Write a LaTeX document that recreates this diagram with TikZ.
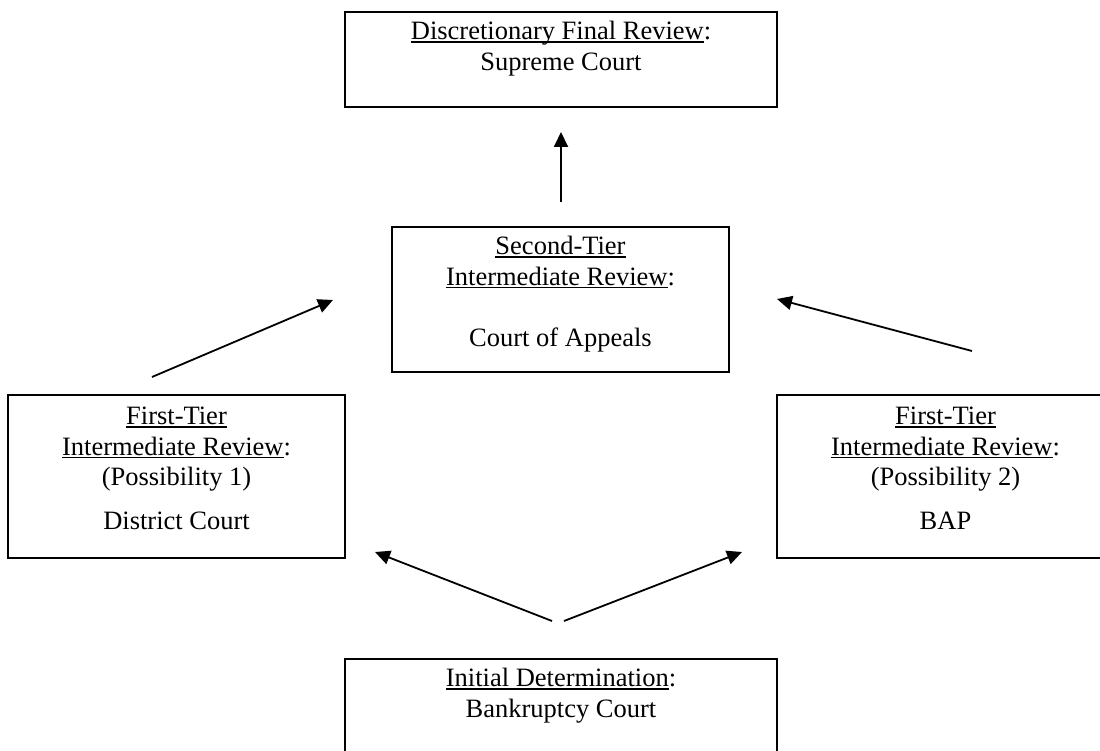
\documentclass[tikz,border=0pt]{standalone}
\usepackage{fontspec}
\setmainfont{Liberation Serif}
\usetikzlibrary{arrows.meta,positioning}
\newcommand\undl[1]{\setbox0\hbox{#1}\rlap{\rule[-3pt]{\wd0}{1.3pt}}\box0}

\begin{document}
\begin{tikzpicture}[
        x=1pt, y=-1pt,
        court/.style={rectangle, draw, line width=2pt, inner sep=0pt},
        wide/.style={minimum width=432pt, minimum height=95pt},
        tier/.style={minimum width=337pt},
        courttext/.style={align=center, inner sep=0pt, font=\fontsize{26.5}{30.5}\selectfont, execute at begin node=\strut},
        appeal/.style={-{Triangle[length=15pt,width=14pt]}, line width=1.8pt}]
        \clip (0,0) rectangle (1100,751);
        \node[court, wide] (supreme) at (561,59.5) {};
        \node[court, tier, minimum height=145pt] (appeals) at (560.5,299.5) {};
        \node[court, tier, minimum height=163pt] (district) at (176.5,476.5) {};
        \node[court, tier, minimum height=163pt] (bap) at (945.5,476.5) {};
        \node[court, wide] (bankruptcy) at (561,706.5) {};

        \node[courttext, below=10.2pt of supreme.north] (supreme-text) {\undl{Discretionary Final Review}:\\Supreme Court};
        \node[courttext, below=10.2pt of appeals.north] (appeals-text) {\undl{Second-Tier}\\\undl{Intermediate Review}:\\[30.5pt]Court of Appeals};
        \node[courttext, below=13pt of district.north] (district-text) {\undl{First-Tier}\\\undl{Intermediate Review}:\\(Possibility 1)\\[13pt]District Court};
        \node[courttext, below=13pt of bap.north] (bap-text) {\undl{First-Tier}\\\undl{Intermediate Review}:\\(Possibility 2)\\[13pt]BAP};
        \node[courttext, below=10.2pt of bankruptcy.north] (bankruptcy-text) {\undl{Initial Determination}:\\Bankruptcy Court};

        \coordinate (up-tail) at (561,202);
        \coordinate (up-head) at (561,132);
        \coordinate (left-tail) at (152,377);
        \coordinate (left-head) at (333,300);
        \coordinate (right-tail) at (972,351);
        \coordinate (right-head) at (777,299);
        \coordinate (bk-left-tail) at (552,621);
        \coordinate (bk-left-head) at (375,552);
        \coordinate (bk-right-tail) at (564,621);
        \coordinate (bk-right-head) at (742,552);
        \draw[appeal] (up-tail) -- (up-head);
        \draw[appeal] (left-tail) -- (left-head);
        \draw[appeal] (right-tail) -- (right-head);
        \draw[appeal] (bk-left-tail) -- (bk-left-head);
        \draw[appeal] (bk-right-tail) -- (bk-right-head);
\end{tikzpicture}
\end{document}
